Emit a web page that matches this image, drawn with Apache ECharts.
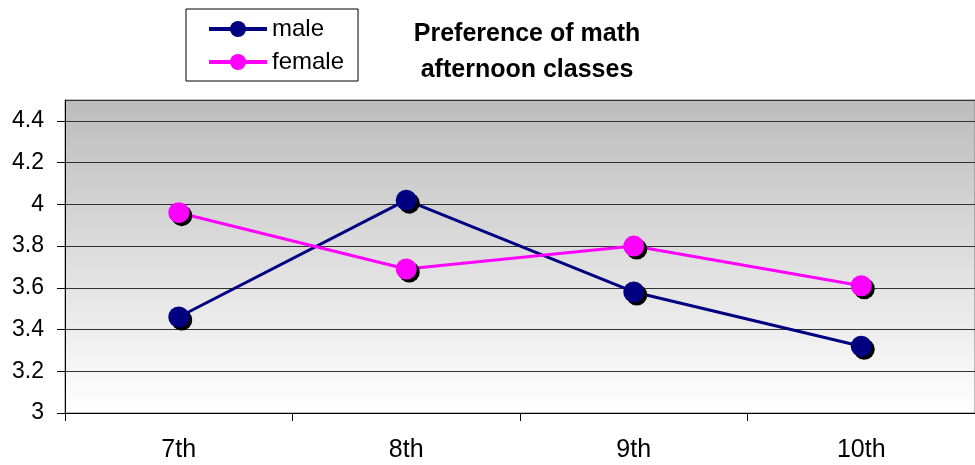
<!DOCTYPE html>
<html>
<head>
<meta charset="utf-8">
<script src="https://cdn.jsdelivr.net/npm/echarts@6/dist/echarts.min.js"></script>
<style>html,body{margin:0;padding:0;background:#fff;}#c{width:975px;height:465px;}</style>
</head>
<body>
<div id="c"></div>
<script>
var categories = ['7th', '8th', '9th', '10th'];
var maleValues = [3.46, 4.02, 3.58, 3.32];
var femaleValues = [3.96, 3.69, 3.80, 3.61];
var titleText = 'Preference of math\nafternoon classes';

var chart = echarts.init(document.getElementById('c'));
var font = 'Liberation Sans, Arial, sans-serif';
function mkSeries(name, data, color) {
  return {
    name: name, type: 'line', data: data,
    symbol: 'circle', symbolSize: 21,
    lineStyle: { color: color, width: 3 },
    itemStyle: { color: color, shadowColor: '#000', shadowBlur: 0, shadowOffsetX: 3, shadowOffsetY: 3 },
    emphasis: { disabled: true },
    animation: false
  };
}
chart.setOption({
  animation: false,
  title: {
    text: titleText, left: 522, top: 11, textAlign: 'center',
    textStyle: { fontFamily: font, fontSize: 25, fontWeight: 'bold', color: '#000', lineHeight: 36 }
  },
  legend: {
    orient: 'vertical', left: 186, top: 9,
    backgroundColor: '#fff', borderColor: '#000', borderWidth: 1,
    padding: [7, 14, 6, 21], itemGap: 7, itemWidth: 58, itemHeight: 20,
    textStyle: { fontFamily: font, fontSize: 24, color: '#000', lineHeight: 26 },
    itemStyle: { shadowBlur: 0, shadowColor: 'rgba(0,0,0,0)', shadowOffsetX: 0, shadowOffsetY: 0 },
    lineStyle: { width: 4 },
    data: ['male', 'female']
  },
  grid: {
    left: 65, right: 0, top: 100, bottom: 52, show: true,
    borderColor: '#808080', borderWidth: 1,
    backgroundColor: new echarts.graphic.LinearGradient(0, 0, 0, 1, [
      { offset: 0, color: '#bcbcbc' }, { offset: 1, color: '#ffffff' }
    ])
  },
  xAxis: {
    type: 'category', data: categories, boundaryGap: true,
    axisLine: { lineStyle: { color: '#000', width: 1 } },
    axisTick: { show: true, length: 8, lineStyle: { color: '#000' } },
    axisLabel: { fontFamily: font, fontSize: 25, color: '#000', margin: 25 }
  },
  yAxis: {
    type: 'value', min: 3, max: 4.5, interval: 0.2,
    axisLine: { show: true, lineStyle: { color: '#000', width: 1 } },
    axisTick: { show: true, length: 8, lineStyle: { color: '#000' } },
    axisLabel: { fontFamily: font, fontSize: 23, color: '#000', margin: 21, showMaxLabel: false,
      formatter: function (v) { return Math.abs(v - 4.5) < 1e-6 ? '' : String(+v.toFixed(1)); } },
    splitLine: { show: true, lineStyle: { color: '#333', width: 1 } }
  },
  series: [mkSeries('male', maleValues, '#000080'), mkSeries('female', femaleValues, '#ff00ff')]
});
</script>
</body>
</html>
